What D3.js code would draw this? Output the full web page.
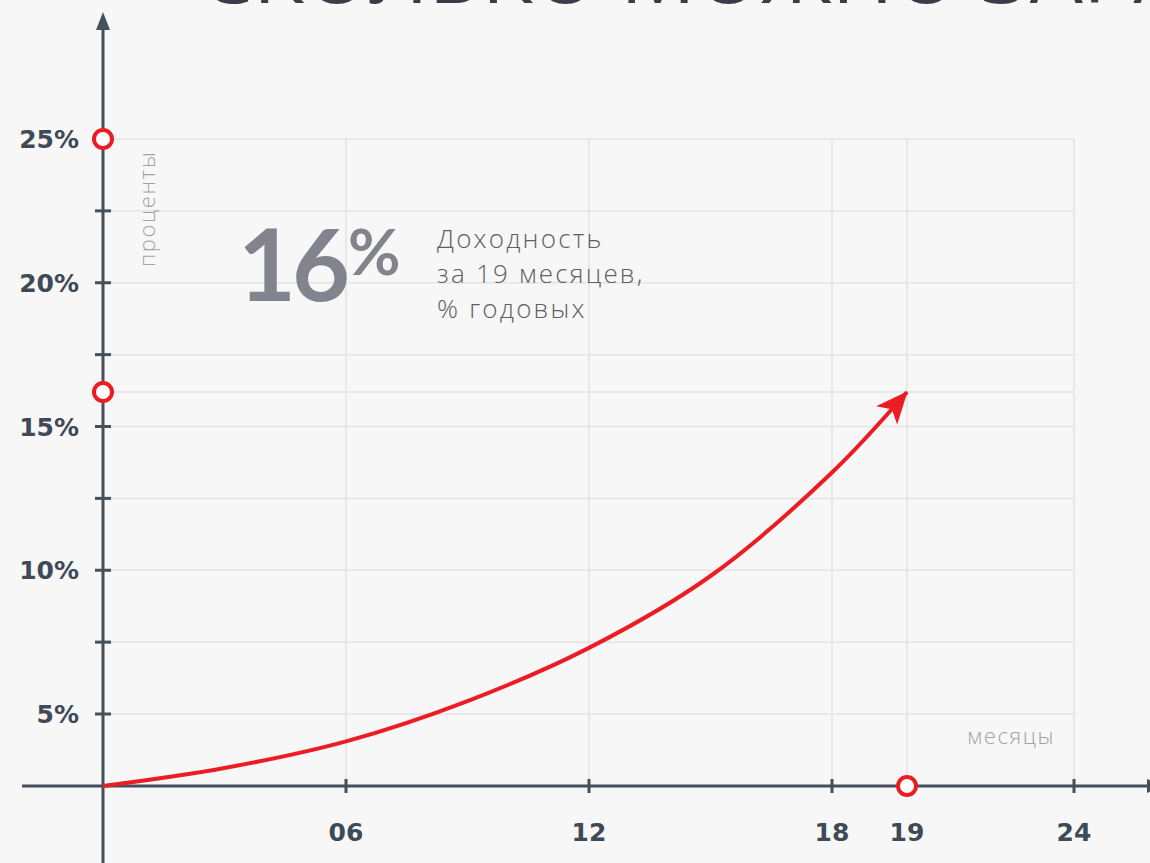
<!DOCTYPE html>
<html><head><meta charset="utf-8">
<script src="https://cdn.jsdelivr.net/npm/d3@7"></script>
<style>
html,body{margin:0;padding:0;background:#f7f7f7;overflow:hidden;}
svg{display:block;font-family:"Open Sans",Lato,sans-serif;}
</style></head>
<body>
<svg id="c" width="1150" height="863"></svg>
<script>
// ---- data ----
const months = [0, 3, 6, 9, 12, 15, 18, 19];
const yieldPct = [0, 1.25, 3.1, 5.45, 7.3, 9.8, 13.4, 16.2];
const xTickValues = [6, 12, 18, 19, 24];
const xTickLabels = ["06", "12", "18", "19", "24"];
const yTickValues = [5, 7.5, 10, 12.5, 15, 17.5, 20, 22.5, 25];
const yLabelValues = [5, 10, 15, 20, 25];
const yLabelTexts = ["5%", "10%", "15%", "20%", "25%"];
const markerPct = [25, 16.2];
const markerMonth = [19];
const bigValue = "16";
const descLines = ["Доходность", "за 19 месяцев,", "% годовых"];
const yAxisTitle = "проценты";
const xAxisTitle = "месяцы";
const titleText = "СКОЛЬКО МОЖНО ЗАРАБОТАТЬ";

// ---- layout ----
const svg = d3.select("#c");
const W = 1150, H = 863;
const x = d3.scaleLinear().domain([0, 18, 19, 24]).range([103, 832, 907, 1074]);
const y = d3.scaleLinear().domain([0, 5, 25]).range([786, 714, 139]);
const axisColor = "#44515b";
const labelColor = "#3e4a55";
const red = "#ec1c24";
const gridColor = "#e3e3e3";
const boldFont = "'DejaVu Sans', sans-serif";

svg.append("rect").attr("width", W).attr("height", H).attr("fill", "#f7f7f7");

const defs = svg.append("defs");
// only a thin strip of the title shows at the top edge, as in the reference
defs.append("clipPath").attr("id", "titleClip")
  .append("rect").attr("x", 0).attr("y", 0).attr("width", W).attr("height", 4);
svg.append("g").attr("clip-path", "url(#titleClip)")
  .append("text").attr("x", 200).attr("y", 3)
  .style("font-size", "84px").attr("font-weight", 400).attr("fill", "#3b3c48")
  .text(titleText);

// grid
const g = svg.append("g");
g.selectAll(".hg").data(yTickValues.concat([markerPct[1]])).enter().append("line")
  .attr("x1", x(0)).attr("x2", x(24))
  .attr("y1", d => y(d)).attr("y2", d => y(d))
  .attr("stroke", gridColor).attr("stroke-width", 1.5);
g.selectAll(".vg").data(xTickValues).enter().append("line")
  .attr("x1", d => x(d)).attr("x2", d => x(d))
  .attr("y1", y(25)).attr("y2", y(0))
  .attr("stroke", gridColor).attr("stroke-width", 1.5);

// axes lines
svg.append("line").attr("x1", x(0)).attr("x2", x(0)).attr("y1", 26).attr("y2", H)
  .attr("stroke", axisColor).attr("stroke-width", 3);
svg.append("path").attr("d", `M${x(0)},12 L${x(0)-7},30 L${x(0)+7},30 Z`).attr("fill", axisColor);
svg.append("line").attr("x1", 22).attr("x2", 1160).attr("y1", y(0)).attr("y2", y(0))
  .attr("stroke", axisColor).attr("stroke-width", 3);
svg.append("path").attr("d", `M1165,${y(0)} L1147,${y(0)-7} L1147,${y(0)+7} Z`).attr("fill", axisColor);

// y ticks
svg.selectAll(".yt").data(yTickValues).enter().append("line")
  .attr("x1", x(0) - 8).attr("x2", x(0) + 8)
  .attr("y1", d => y(d)).attr("y2", d => y(d))
  .attr("stroke", axisColor).attr("stroke-width", 3);
svg.selectAll(".yl").data(yLabelValues).enter().append("text")
  .attr("x", 79).attr("y", d => y(d)).attr("dy", "0.36em")
  .attr("text-anchor", "end").style("font-family", boldFont)
  .style("font-size", "25px").attr("font-weight", 700)
  .attr("fill", labelColor)
  .text((d, i) => yLabelTexts[i]);

// x ticks
svg.selectAll(".xt").data(xTickValues.filter(d => d !== markerMonth[0])).enter().append("line")
  .attr("x1", d => x(d)).attr("x2", d => x(d))
  .attr("y1", y(0) - 7).attr("y2", y(0) + 7)
  .attr("stroke", axisColor).attr("stroke-width", 3);
svg.selectAll(".xl").data(xTickValues).enter().append("text")
  .attr("x", d => x(d)).attr("y", 841)
  .attr("text-anchor", "middle").style("font-family", boldFont)
  .style("font-size", "25px").attr("font-weight", 700)
  .attr("fill", labelColor)
  .text((d, i) => xTickLabels[i]);

// axis titles
svg.append("text").attr("transform", `translate(155,267) rotate(-90)`)
  .style("font-size", "22px").attr("font-weight", 300).attr("fill", "#a3a3a3")
  .attr("letter-spacing", 1.6)
  .text(yAxisTitle);
svg.append("text").attr("x", 1055).attr("y", 744).attr("text-anchor", "end")
  .style("font-size", "22px").attr("font-weight", 300).attr("fill", "#a3a3a3")
  .attr("letter-spacing", 1.6)
  .text(xAxisTitle);

// big value + description
svg.append("text").attr("x", 238).attr("y", 301)
  .style("font-family", "Lato, sans-serif")
  .style("font-size", "100px").attr("font-weight", 700).attr("fill", "#83838d")
  .attr("letter-spacing", -4)
  .text(bigValue);
svg.append("text").attr("x", 348).attr("y", 275)
  .style("font-family", "Lato, sans-serif")
  .style("font-size", "64px").attr("font-weight", 700).attr("fill", "#83838d")
  .text("%");
svg.append("text").attr("x", 437).style("font-size", "26px").attr("font-weight", 300)
  .attr("fill", "#5f5f68").attr("letter-spacing", 2.2)
  .selectAll("tspan").data(descLines).enter().append("tspan")
  .attr("x", 437).attr("y", (d, i) => 248 + i * 35).text(d => d);

// curve with arrow
defs.append("marker").attr("id", "arr")
  .attr("markerUnits", "userSpaceOnUse")
  .attr("viewBox", "-32 -16 34 32").attr("refX", 0).attr("refY", 0)
  .attr("markerWidth", 34).attr("markerHeight", 32).attr("orient", "auto")
  .append("path").attr("d", "M1,0 L-31,-14 L-23,0 L-31,14 Z").attr("fill", red);

const pts = months.map((m, i) => [x(m), y(yieldPct[i])]);
const line = d3.line().curve(d3.curveCatmullRom.alpha(0.5));
svg.append("path").attr("d", line(pts)).attr("fill", "none")
  .attr("stroke", red).attr("stroke-width", 4).attr("marker-end", "url(#arr)");

// markers
const mk = [[x(0), y(markerPct[0])], [x(0), y(markerPct[1])], [x(markerMonth[0]), y(0)]];
svg.selectAll(".mk").data(mk).enter().append("circle")
  .attr("cx", d => d[0]).attr("cy", d => d[1]).attr("r", 9)
  .attr("fill", "#ffffff").attr("stroke", red).attr("stroke-width", 4);
</script>
</body></html>
